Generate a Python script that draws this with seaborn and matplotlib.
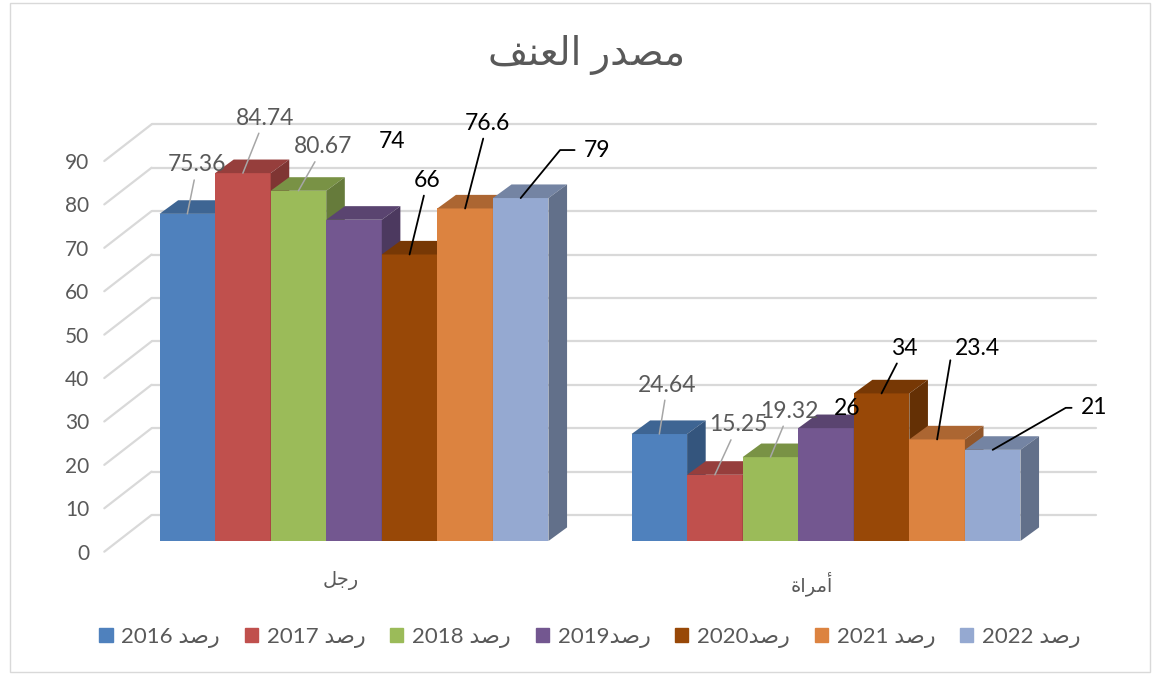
import re
import numpy as np
import pandas as pd
import matplotlib
matplotlib.use('Agg')
import matplotlib.pyplot as plt
import seaborn as sns
from matplotlib.patches import Polygon, Rectangle
from matplotlib.transforms import ScaledTranslation

# data
categories = ['رجل', 'أمراة']
years = ['رصد 2016', 'رصد 2017', 'رصد 2018', 'رصد2019', 'رصد2020', 'رصد 2021', 'رصد 2022']
men = [75.36, 84.74, 80.67, 74, 66, 76.6, 79]
women = [24.64, 15.25, 19.32, 26, 34, 23.4, 21]
colors = ['#4F81BD', '#C0504D', '#9BBB59', '#735790', '#984807', '#DC8340', '#95A9D1']
title = 'مصدر العنف'
yticks = list(range(0, 100, 10))

# label placement: text centre offset from bar top (px, y down), leader kind, angle of elbow leg
label_pos = {
    (0, 0): (10, -49, 'line', None), (0, 1): (22, -55, 'line', None),
    (0, 2): (25, -44, 'line', None), (0, 3): (38, -78, None, None),
    (0, 4): (18, -74, 'line', None), (0, 5): (22, -85, 'line', None),
    (0, 6): (76, -48, 'elbow', 50.6),
    (1, 0): (8, -49, 'line', None), (1, 1): (23, -50, 'line', None),
    (1, 2): (19, -46, 'line', None), (1, 3): (21, -20, None, None),
    (1, 4): (23, -45, 'line', None), (1, 5): (40, -91, 'elbow', 80.5),
    (1, 6): (101, -42, 'elbow', 29.9),
}

# matplotlib has no arabic shaping, so build the presentation forms by hand
FORMS = {
    'ا': ('\uFE8D', '\uFE8E', None, None), 'أ': ('\uFE83', '\uFE84', None, None),
    'ة': ('\uFE93', '\uFE94', None, None), 'د': ('\uFEA9', '\uFEAA', None, None),
    'ر': ('\uFEAD', '\uFEAE', None, None),
    'ج': ('\uFE9D', '\uFE9E', '\uFE9F', '\uFEA0'), 'ص': ('\uFEB9', '\uFEBA', '\uFEBB', '\uFEBC'),
    'ع': ('\uFEC9', '\uFECA', '\uFECB', '\uFECC'), 'ف': ('\uFED1', '\uFED2', '\uFED3', '\uFED4'),
    'ل': ('\uFEDD', '\uFEDE', '\uFEDF', '\uFEE0'), 'م': ('\uFEE1', '\uFEE2', '\uFEE3', '\uFEE4'),
    'ن': ('\uFEE5', '\uFEE6', '\uFEE7', '\uFEE8'),
}
AR = r'[\u0600-\u06FF]'


def shape(word):
    out = []
    for i, ch in enumerate(word):
        f = FORMS.get(ch)
        if f is None:
            out.append(ch)
            continue
        prev = word[i - 1] if i > 0 else ''
        nxt = word[i + 1] if i + 1 < len(word) else ''
        jp = prev in FORMS and FORMS[prev][2] is not None
        jn = f[2] is not None and nxt in FORMS
        out.append(f[3] if jp and jn else f[1] if jp else f[2] if jn else f[0])
    return ''.join(out)


def visual(s):
    runs = re.findall(AR + r'+|\s+|[^\u0600-\u06FF\s]+', s)
    return ''.join(shape(r)[::-1] if re.match(AR, r) else r for r in reversed(runs))


sns.set_style('white')
plt.rcParams['font.family'] = ['Lato', 'DejaVu Sans']
GRAY = '#595959'

df = pd.DataFrame({
    'cat': [c for c in categories for _ in years],
    'year': years * 2,
    'val': men + women,
})

fig = plt.figure(figsize=(11.59, 6.75), dpi=100)
ax = fig.add_axes([118 / 1159, 134 / 675, 944 / 1159, 390.7 / 675])
sns.barplot(data=df, x='cat', y='val', hue='year', order=categories, hue_order=years,
            palette=colors, saturation=1, width=0.824, gap=0, legend=False, ax=ax,
            linewidth=0, errorbar=None)
ax.set_xlim(-0.5, 1.5)
ax.set_ylim(0, 90)
ax.set_facecolor('none')
for s in ax.spines.values():
    s.set_visible(False)
ax.set_xlabel('')
ax.set_ylabel('')

# pixel -> data scale
p0, p1 = ax.transData.transform([(0, 0), (1, 1)])
sx, sy = p1[0] - p0[0], p1[1] - p0[1]
bx, by = 33.6 / sx, 26 / sy        # back wall
fx, fy = -13.7 / sx, -10.7 / sy    # front edge
dx, dy = 18.6 / sx, 13.6 / sy      # bar depth

xl0, xl1 = ax.get_xlim()
for t in yticks:
    ax.plot([xl0 + bx, xl1 + bx], [t + by, t + by], color='#d9d9d9', lw=1.6, zorder=0.5, clip_on=False)
    ax.plot([xl0 + fx, xl0 + bx], [t + fy, t + by], color='#d9d9d9', lw=1.6, zorder=0.5, clip_on=False)

# 3d faces on seaborn's bars
n = len(years)
for k, p in enumerate(ax.patches):
    hi = k // len(categories)
    z = 3 + hi * 0.1
    p.set_zorder(z)
    col = np.array(matplotlib.colors.to_rgb(p.get_facecolor()))
    x0, x1 = p.get_x(), p.get_x() + p.get_width()
    h = p.get_height()
    top = Polygon([(x0, h), (x1, h), (x1 + dx, h + dy), (x0 + dx, h + dy)],
                  closed=True, facecolor=col * 0.78, lw=0, zorder=z + 0.01, clip_on=False)
    side = Polygon([(x1, 0), (x1, h), (x1 + dx, h + dy), (x1 + dx, dy)],
                   closed=True, facecolor=col * 0.66, lw=0, zorder=z + 0.01, clip_on=False)
    ax.add_patch(top)
    ax.add_patch(side)

# data labels
for k, p in enumerate(list(ax.patches)[:n * len(categories)]):
    hi, ci = k // len(categories), k % len(categories)
    v = (men, women)[ci][hi]
    ox, oy, kind, ang = label_pos[(ci, hi)]
    black = hi >= 3
    tc = 'black' if black else GRAY
    lc = 'black' if black else '#a6a6a6'
    xy = (p.get_x() + p.get_width() / 2, p.get_height())
    kw = dict(xy=xy, xytext=(ox, -oy), textcoords='offset pixels', ha='center', va='center',
              fontsize=16.5, color=tc, zorder=10, annotation_clip=False)
    if kind == 'line':
        kw['arrowprops'] = dict(arrowstyle='-', color=lc, lw=1.3 if black else 1.1, shrinkA=1, shrinkB=0)
    elif kind == 'elbow':
        kw['arrowprops'] = dict(arrowstyle='-', color=lc, lw=1.3, shrinkA=4, shrinkB=0, relpos=(0, 0.5),
                                connectionstyle=f'angle,angleA=0,angleB={ang},rad=0')
    ax.annotate(f'{v:g}', **kw)

# ticks on the front edge
front = ScaledTranslation(-13.7 / 100, -10.7 / 100, fig.dpi_scale_trans)
ax.set_yticks(yticks)
ax.set_xticks(range(len(categories)))
ax.set_xticklabels([visual(c) for c in categories])
ax.tick_params(axis='y', length=0, pad=11, labelsize=15, labelcolor=GRAY)
ax.tick_params(axis='x', length=0, pad=14, labelsize=14, labelcolor=GRAY)
for lab in ax.get_yticklabels() + ax.get_xticklabels():
    lab.set_transform(lab.get_transform() + front)

fig.text(587 / 1159, 1 - 55 / 675, visual(title), ha='center', va='center', fontsize=28, color=GRAY)

handles = [Rectangle((0, 0), 1, 1, color=c) for c in colors]
fig.legend(handles, [visual(y) for y in years], loc='center', bbox_to_anchor=(590 / 1159, 1 - 637 / 675),
           ncol=7, frameon=False, handlelength=0.6, handleheight=0.6, handletextpad=0.4,
           columnspacing=1.1, fontsize=16, labelcolor=GRAY)

fig.patches.append(Rectangle((10 / 1159, 3 / 675), 1140 / 1159, 669 / 675, transform=fig.transFigure,
                             fill=False, edgecolor='#d9d9d9', lw=1))

fig.savefig('out.png', dpi=100)
